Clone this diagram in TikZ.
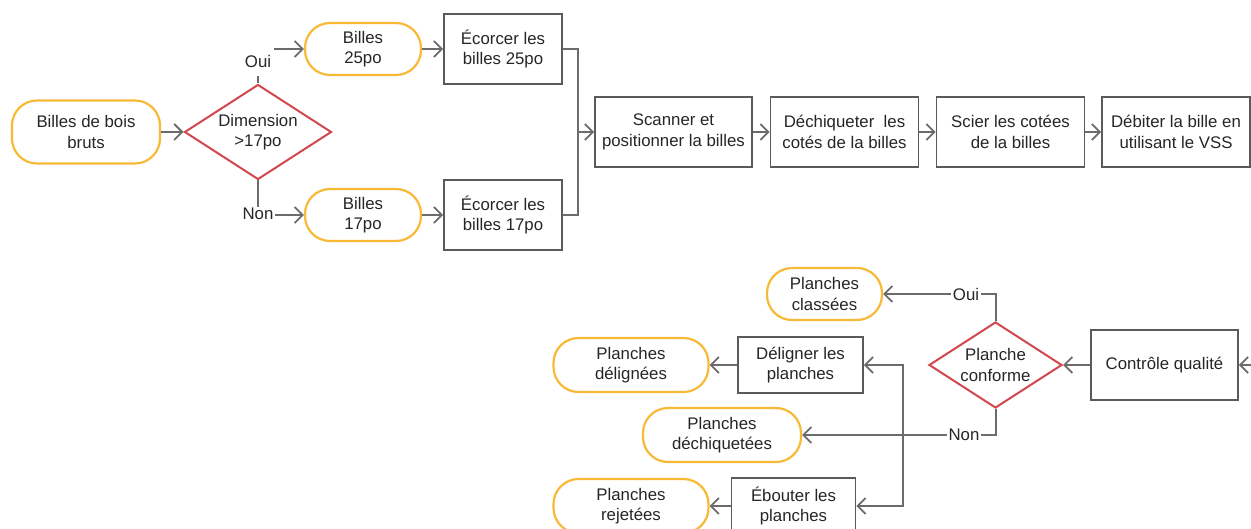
\documentclass[tikz,border=0pt]{standalone}
\usepackage{fontspec}
\setmainfont{Liberation Sans}
\usetikzlibrary{shapes.geometric,arrows.meta}

\definecolor{linegray}{HTML}{6B6B6B}
\definecolor{boxgray}{HTML}{5A5A5A}
\definecolor{termyellow}{HTML}{F8B936}
\definecolor{decred}{HTML}{D2474E}
\definecolor{txt}{HTML}{262626}

\tikzset{
  every node/.style={font=\fontsize{16.8}{20.5}\selectfont, text=txt, align=center},
  terminal/.style={draw=termyellow, line width=2.2pt, fill=white, rounded corners=25pt, inner sep=2pt},
  stepbox/.style={draw=boxgray, line width=1.8pt, fill=white, inner sep=2pt},
  decision/.style={diamond, aspect=1.55, draw=decred, line width=2pt, fill=white, inner sep=0pt},
  conn/.style={draw=linegray, line width=2pt},
  arr/.style={conn, -{Straight Barb[length=8pt, width=16pt, line width=1.8pt]}},
  lbl/.style={fill=white, inner sep=1.5pt}
}

\begin{document}
\begin{tikzpicture}[x=1pt, y=-1pt]
  \useasboundingbox (0,0) rectangle (1251,529);

  % upper flow: log sorting and primary breakdown
  \node[terminal, minimum width=148pt, minimum height=63pt] (n1) at (86,132) {Billes de bois\\bruts};
  \node[decision, minimum width=147pt, minimum height=95pt] (d1) at (258,132) {Dimension\\>17po};
  \node[terminal, minimum width=116pt, minimum height=52pt] (b25) at (363,49) {Billes\\25po};
  \node[stepbox, minimum width=118pt, minimum height=70pt] (e25) at (503,49) {Écorcer les\\billes 25po};
  \node[terminal, minimum width=116pt, minimum height=52pt] (b17) at (363,215) {Billes\\17po};
  \node[stepbox, minimum width=118pt, minimum height=70pt] (e17) at (503,215) {Écorcer les\\billes 17po};
  \node[stepbox, minimum width=157pt, minimum height=70pt] (sc) at (673.5,132) {Scanner et\\positionner la billes};
  \node[stepbox, minimum width=148pt, minimum height=70pt] (dq) at (844.5,132) {Déchiqueter~ les\\cotés de la billes};
  \node[stepbox, minimum width=148pt, minimum height=70pt] (sci) at (1010.5,132) {Scier les cotées\\de la billes};
  \node[stepbox, minimum width=148pt, minimum height=70pt] (deb) at (1176,132) {Débiter la bille en\\utilisant le VSS};

  % lower flow: grading of boards
  \node[stepbox, minimum width=147pt, minimum height=70pt] (ctrl) at (1164.5,365) {Contrôle qualité};
  \node[decision, minimum width=133pt, minimum height=86pt] (d2) at (995.5,365) {Planche\\conforme};
  \node[terminal, minimum width=115pt, minimum height=52pt] (pc) at (824.5,294) {Planches\\classées};
  \node[terminal, minimum width=158pt, minimum height=54pt] (pd) at (722,435) {Planches\\déchiquetées};
  \node[stepbox, minimum width=125pt, minimum height=56pt] (dl) at (800.5,365) {Déligner les\\planches};
  \node[terminal, minimum width=155pt, minimum height=54pt] (pdl) at (631,365) {Planches\\délignées};
  \node[stepbox, minimum width=124pt, minimum height=56pt] (eb) at (793.5,506) {Ébouter les\\planches};
  \node[terminal, minimum width=155pt, minimum height=54pt] (pr) at (631,506) {Planches\\rejetées};

  \coordinate (mg) at (578,132);
  \coordinate (fromdeb) at (1253,365);
  \coordinate (j) at (903,435);

  % upper connectors
  \draw[arr] (n1.east) -- (d1.west);
  \draw[arr] (d1.north) |- (b25.west);
  \node[lbl, minimum height=30pt, minimum width=31pt] (oui1) at (258,61) {Oui};
  \draw[arr] (d1.south) |- (b17.west);
  \node[lbl] (non1) at (258,214) {Non};
  \draw[arr] (b25.east) -- (e25.west);
  \draw[arr] (b17.east) -- (e17.west);
  \draw[conn] (e25.east) -| (mg);
  \draw[conn] (e17.east) -| (mg);
  \draw[arr] (mg) -- (sc.west);
  \draw[arr] (sc.east) -- (dq.west);
  \draw[arr] (dq.east) -- (sci.west);
  \draw[arr] (sci.east) -- (deb.west);

  % lower connectors
  \draw[arr] (fromdeb) -- (ctrl.east);
  \draw[arr] (ctrl.west) -- (d2.east);
  \draw[arr] (d2.north) |- (pc.east);
  \node[lbl] (oui2) at (966,294) {Oui};
  \draw[arr] (d2.south) |- (pd.east);
  \node[lbl] (non2) at (964,435) {Non};
  \draw[arr] (j) |- (dl.east);
  \draw[arr] (j) |- (eb.east);
  \draw[arr] (dl.west) -- (pdl.east);
  \draw[arr] (eb.west) -- (pr.east);
\end{tikzpicture}
\end{document}
